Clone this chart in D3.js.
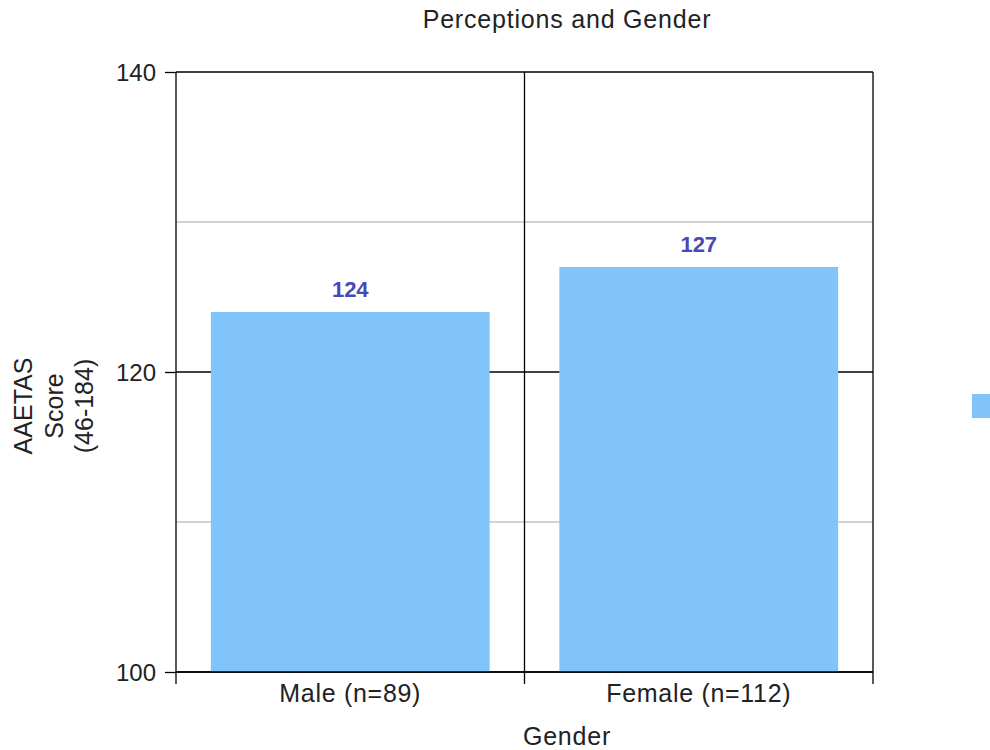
<!DOCTYPE html>
<html><head><meta charset="utf-8">
<script src="https://cdn.jsdelivr.net/npm/d3@7"></script>
<style>body{margin:0;background:#fff}svg{display:block}text{font-family:"Liberation Sans",Arial,sans-serif}</style>
</head><body><svg id="c" width="990" height="750"></svg>
<script>
const categories = ["Male (n=89)", "Female (n=112)"];
const values = [124, 127];
const majorTicks = [100, 120, 140];
const minorTicks = [110, 130];
const title = "Perceptions and Gender";
const xTitle = "Gender";
const yTitleLines = ["AAETAS", "Score", "(46-184)"];

const svg = d3.select("#c");
const L = 176, R = 873, T = 72, B = 672;
const y = d3.scaleLinear().domain([100, 140]).range([B, T]);
const x = d3.scaleBand().domain(categories).range([L, R]).paddingInner(0.2).paddingOuter(0.1);
const xb = d3.scaleBand().domain(categories).range([L, R]);
const txt = "#222";

// minor gridlines
svg.append("g").selectAll("line").data(minorTicks).join("line")
  .attr("x1", L).attr("x2", R).attr("y1", d => y(d)).attr("y2", d => y(d))
  .attr("stroke", "#a8a8a8").attr("stroke-width", 1.2);
// major gridlines
svg.append("g").selectAll("line").data(majorTicks).join("line")
  .attr("x1", L).attr("x2", R).attr("y1", d => y(d)).attr("y2", d => y(d))
  .attr("stroke", "#000").attr("stroke-width", 1.3);
// vertical separators
const seps = categories.map(c => xb(c)).concat([R]);
svg.append("g").selectAll("line").data(seps).join("line")
  .attr("x1", d => d).attr("x2", d => d).attr("y1", T).attr("y2", B + 12)
  .attr("stroke", "#000").attr("stroke-width", 1.3);

// bars
svg.append("g").selectAll("rect").data(values).join("rect")
  .attr("x", (d, i) => x(categories[i])).attr("width", x.bandwidth())
  .attr("y", d => y(d)).attr("height", d => B - y(d))
  .attr("fill", "#80c4fa");
svg.append("line").attr("x1", L).attr("x2", R).attr("y1", B).attr("y2", B).attr("stroke", "#000").attr("stroke-width", 1.3);

// value labels
svg.append("g").selectAll("text").data(values).join("text")
  .attr("x", (d, i) => x(categories[i]) + x.bandwidth() / 2).attr("y", d => y(d) - 15)
  .attr("text-anchor", "middle").attr("font-size", 22).attr("font-weight", "bold")
  .attr("fill", "#4848b8").text(d => d);

// y axis
const yAxis = d3.axisLeft(y).tickValues(majorTicks).tickSize(11).tickPadding(9);
const ga = svg.append("g").attr("transform", `translate(${L},0)`).call(yAxis);
ga.select(".domain").remove();
ga.selectAll(".tick line").attr("stroke", "#000").attr("stroke-width", 1.3);
ga.selectAll(".tick text").attr("font-size", 24).attr("fill", txt).attr("dy", "0.35em")
  .attr("font-family", '"Liberation Sans",Arial,sans-serif');

// x labels
svg.append("g").selectAll("text").data(categories).join("text")
  .attr("x", d => x(d) + x.bandwidth() / 2).attr("y", 702)
  .attr("text-anchor", "middle").attr("font-size", 25).attr("letter-spacing", 0.7)
  .attr("fill", txt).text(d => d);

// titles
svg.append("text").attr("x", 567).attr("y", 28).attr("text-anchor", "middle")
  .attr("font-size", 25).attr("letter-spacing", 0.8).attr("fill", txt).text(title);
svg.append("text").attr("x", 567).attr("y", 745).attr("text-anchor", "middle")
  .attr("font-size", 25).attr("letter-spacing", 0.8).attr("fill", txt).text(xTitle);
const yt = svg.append("text").attr("transform", "translate(0,406) rotate(-90)")
  .attr("text-anchor", "middle").attr("font-size", 25).attr("fill", txt);
yTitleLines.forEach((s, i) => yt.append("tspan").attr("x", 0).attr("y", 32 + i * 30.5).text(s));

// legend marker (cut off)
svg.append("rect").attr("x", 972).attr("y", 394).attr("width", 24).attr("height", 24).attr("fill", "#80c4fa");
</script></body></html>
